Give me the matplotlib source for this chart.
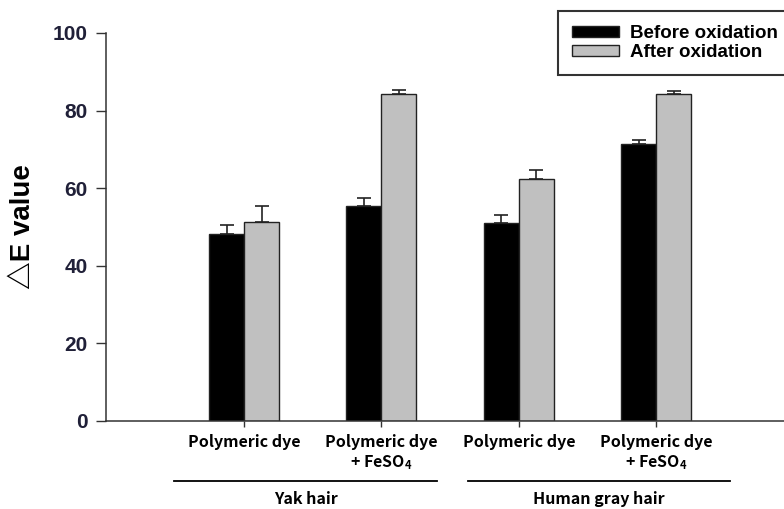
import numpy as np
import matplotlib
matplotlib.use("Agg")
import matplotlib.pyplot as plt
from matplotlib.patches import Patch

# data
categories = ["Polymeric dye", "Polymeric dye\n+ FeSO$\\mathregular{_4}$",
              "Polymeric dye", "Polymeric dye\n+ FeSO$\\mathregular{_4}$"]
groups = ["Yak hair", "Human gray hair"]
before = [48.2, 55.4, 51.0, 71.5]
before_err = [2.4, 2.0, 2.1, 0.9]
after = [51.4, 84.3, 62.4, 84.4]
after_err = [3.9, 1.1, 2.2, 0.7]
yticks = [0, 20, 40, 60, 80, 100]

plt.rcParams['mathtext.default'] = 'regular'
lab_font = ["Noto Sans CJK KR", "DejaVu Sans"]

fig = plt.figure(figsize=(7.84, 5.09), dpi=100)
ax = fig.add_axes([106/784, 88/509, 678/784, 388/509])

x = np.arange(len(categories))
w = 0.255
ax.bar(x - w/2, before, w, color="black", edgecolor="#222222", linewidth=1, zorder=2)
ax.bar(x + w/2, after, w, color="#c0c0c0", edgecolor="#222222", linewidth=1, zorder=2)
ax.errorbar(x - w/2, before, yerr=[np.zeros(4), before_err], fmt="none",
            ecolor="#222222", elinewidth=1.2, capsize=5, capthick=1.2, zorder=1)
ax.errorbar(x + w/2, after, yerr=[np.zeros(4), after_err], fmt="none",
            ecolor="#222222", elinewidth=1.2, capsize=5, capthick=1.2, zorder=1)

ax.set_xlim(-1.005, 3.93)
ax.set_ylim(0, 100)
ax.set_yticks(yticks)
ax.set_yticklabels([str(v) for v in yticks], fontsize=15, fontweight="bold",
                   family="Liberation Sans", color="#202038")
ax.set_xticks(x)
ax.set_xticklabels(categories, fontsize=11.5, fontweight="bold", family=lab_font,
                   linespacing=1.3)
ax.tick_params(axis="y", direction="out", length=7, width=1, pad=6, color="#333333")
ax.tick_params(axis="x", direction="out", length=4, width=1, pad=5, color="#333333")
for s in ["top", "right"]:
    ax.spines[s].set_visible(False)
for s in ["left", "bottom"]:
    ax.spines[s].set_linewidth(1.1)
    ax.spines[s].set_color("#333333")

ax.set_ylabel("△E value", fontsize=20, fontweight="bold",
              family=["Liberation Sans", "Noto Sans CJK KR", "DejaVu Sans"])
ax.yaxis.set_label_coords(-0.103, 0.5)

# group lines and labels below the tick labels
trans = ax.get_xaxis_transform()
spans = [(x[0] - 0.51, x[1] + 0.405), (x[2] - 0.37, x[3] + 0.54)]
for name, (a, b) in zip(groups, spans):
    ax.plot([a, b], [-0.155, -0.155], color="black", lw=1.3, transform=trans, clip_on=False)
    ax.text((a + b) / 2, -0.2, name, transform=trans, ha="center", va="center",
            fontsize=11.5, fontweight="bold", family=lab_font)

handles = [Patch(facecolor="black", edgecolor="#222222"),
           Patch(facecolor="#c0c0c0", edgecolor="#222222")]
leg = fig.legend(handles, ["Before oxidation", "After oxidation"], loc="upper left",
                 bbox_to_anchor=(558/784, 1 - 11/509), borderaxespad=0,
                 fancybox=False, framealpha=1, edgecolor="#333333",
                 prop={"family": "Liberation Sans", "weight": "bold", "size": 13.5},
                 handlelength=2.5, handleheight=0.55, handletextpad=0.6,
                 labelspacing=0.1, borderpad=0.75)
leg.get_frame().set_linewidth(1.5)

fig.savefig("out.png", dpi=100)
